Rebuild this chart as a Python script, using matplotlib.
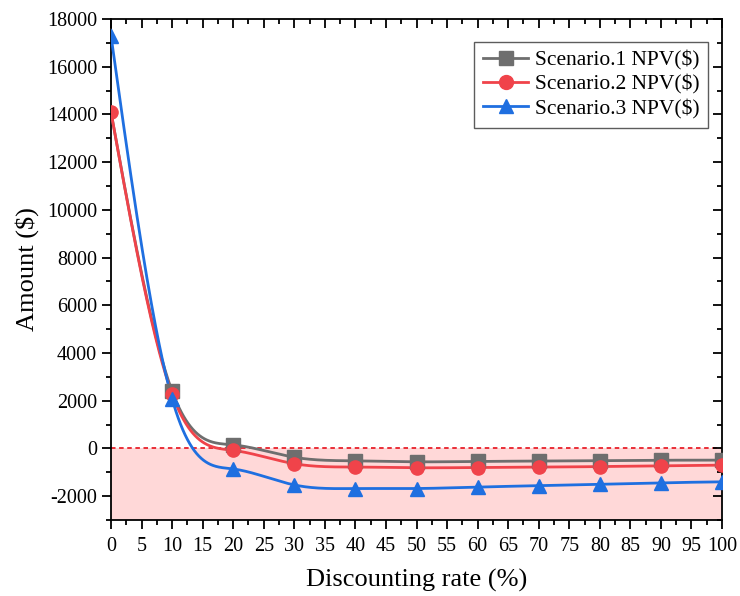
import numpy as np
import matplotlib
matplotlib.use("Agg")
import matplotlib.pyplot as plt
from matplotlib.ticker import MultipleLocator

rate = [0, 10, 20, 30, 40, 50, 60, 70, 80, 90, 100]
npv_s1 = [14100, 2400, 150, -370, -520, -560, -545, -530, -515, -495, -490]
npv_s2 = [14100, 2280, -80, -640, -780, -810, -800, -785, -760, -730, -700]
npv_s3 = [17300, 2080, -860, -1530, -1680, -1680, -1620, -1560, -1500, -1440, -1400]
labels = ["Scenario.1 NPV($)", "Scenario.2 NPV($)", "Scenario.3 NPV($)"]


def natural_spline(x, y, xs):
    # natural cubic spline, like Origin's "Spline" connect
    x = np.asarray(x, float); y = np.asarray(y, float)
    n = len(x); h = np.diff(x)
    A = np.zeros((n, n)); b = np.zeros(n)
    A[0, 0] = A[-1, -1] = 1
    for i in range(1, n - 1):
        A[i, i - 1] = h[i - 1]
        A[i, i] = 2 * (h[i - 1] + h[i])
        A[i, i + 1] = h[i]
        b[i] = 6 * ((y[i + 1] - y[i]) / h[i] - (y[i] - y[i - 1]) / h[i - 1])
    M = np.linalg.solve(A, b)
    idx = np.clip(np.searchsorted(x, xs) - 1, 0, n - 2)
    hi = h[idx]; t1 = x[idx + 1] - xs; t0 = xs - x[idx]
    return (M[idx] * t1**3 / (6 * hi) + M[idx + 1] * t0**3 / (6 * hi)
            + (y[idx] / hi - M[idx] * hi / 6) * t1
            + (y[idx + 1] / hi - M[idx + 1] * hi / 6) * t0)


plt.rcParams["font.family"] = ["Liberation Serif", "DejaVu Serif"]
plt.rcParams["axes.unicode_minus"] = False

fig = plt.figure(figsize=(7.4, 5.96), dpi=100)
ax = fig.add_axes([0.15, 0.1275, 0.8257, 0.8406])

ax.axhspan(-3000, 0, color="#FFD8D8", zorder=0, lw=0)
ax.axhline(0, color="#E8202A", ls=(0, (2.5, 2)), lw=1.3, zorder=1)

xs = np.linspace(0, 100, 800)
series = [(npv_s1, "#6E6E6E", "s"), (npv_s2, "#F0434A", "o"), (npv_s3, "#1F6FE0", "^")]
for k, ((vals, col, mk), lab) in enumerate(zip(series, labels)):
    ax.plot(xs, natural_spline(rate, vals, xs), color=col, lw=2, zorder=3)
    # scenario 1's first point sits under scenario 2's in the original
    every = slice(1, None) if k == 0 else None
    ax.plot(rate, vals, ls="none", marker=mk, ms=9.5, color=col, zorder=4,
            markevery=every)
    ax.plot([], [], color=col, lw=2, marker=mk, ms=10, label=lab)

ax.set_xlim(0, 100)
ax.set_ylim(-3000, 18000)
ax.xaxis.set_major_locator(MultipleLocator(5))
ax.xaxis.set_minor_locator(MultipleLocator(2.5))
ax.yaxis.set_major_locator(MultipleLocator(2000))
ax.yaxis.set_minor_locator(MultipleLocator(1000))
ax.tick_params(axis="both", which="major", labelsize=14.5, length=6.5, width=1.3, direction="out")
ax.tick_params(axis="both", which="minor", length=3.5, width=1.3, direction="out")
ax.tick_params(axis="x", which="major", pad=6)
ax.tick_params(top=True, right=True, which="both")
for tk in ax.xaxis.get_major_ticks() + ax.xaxis.get_minor_ticks():
    tk.tick2line.set_marker(3)
for tk in ax.yaxis.get_major_ticks() + ax.yaxis.get_minor_ticks():
    tk.tick2line.set_marker(0)
for sp in ax.spines.values():
    sp.set_linewidth(1.3)

ax.set_xlabel("Discounting rate (%)", fontsize=19, labelpad=9)
ax.set_ylabel("Amount ($)", fontsize=19, labelpad=6)

leg = ax.legend(loc="upper right", fontsize=15.5, frameon=True, fancybox=False,
                edgecolor="#333333", handlelength=2.1, borderpad=0.4,
                labelspacing=0.2, handletextpad=0.3, borderaxespad=0,
                bbox_to_anchor=(0.977, 0.955))
leg.get_frame().set_linewidth(1.0)

fig.savefig("out.png", dpi=100, facecolor="white")
